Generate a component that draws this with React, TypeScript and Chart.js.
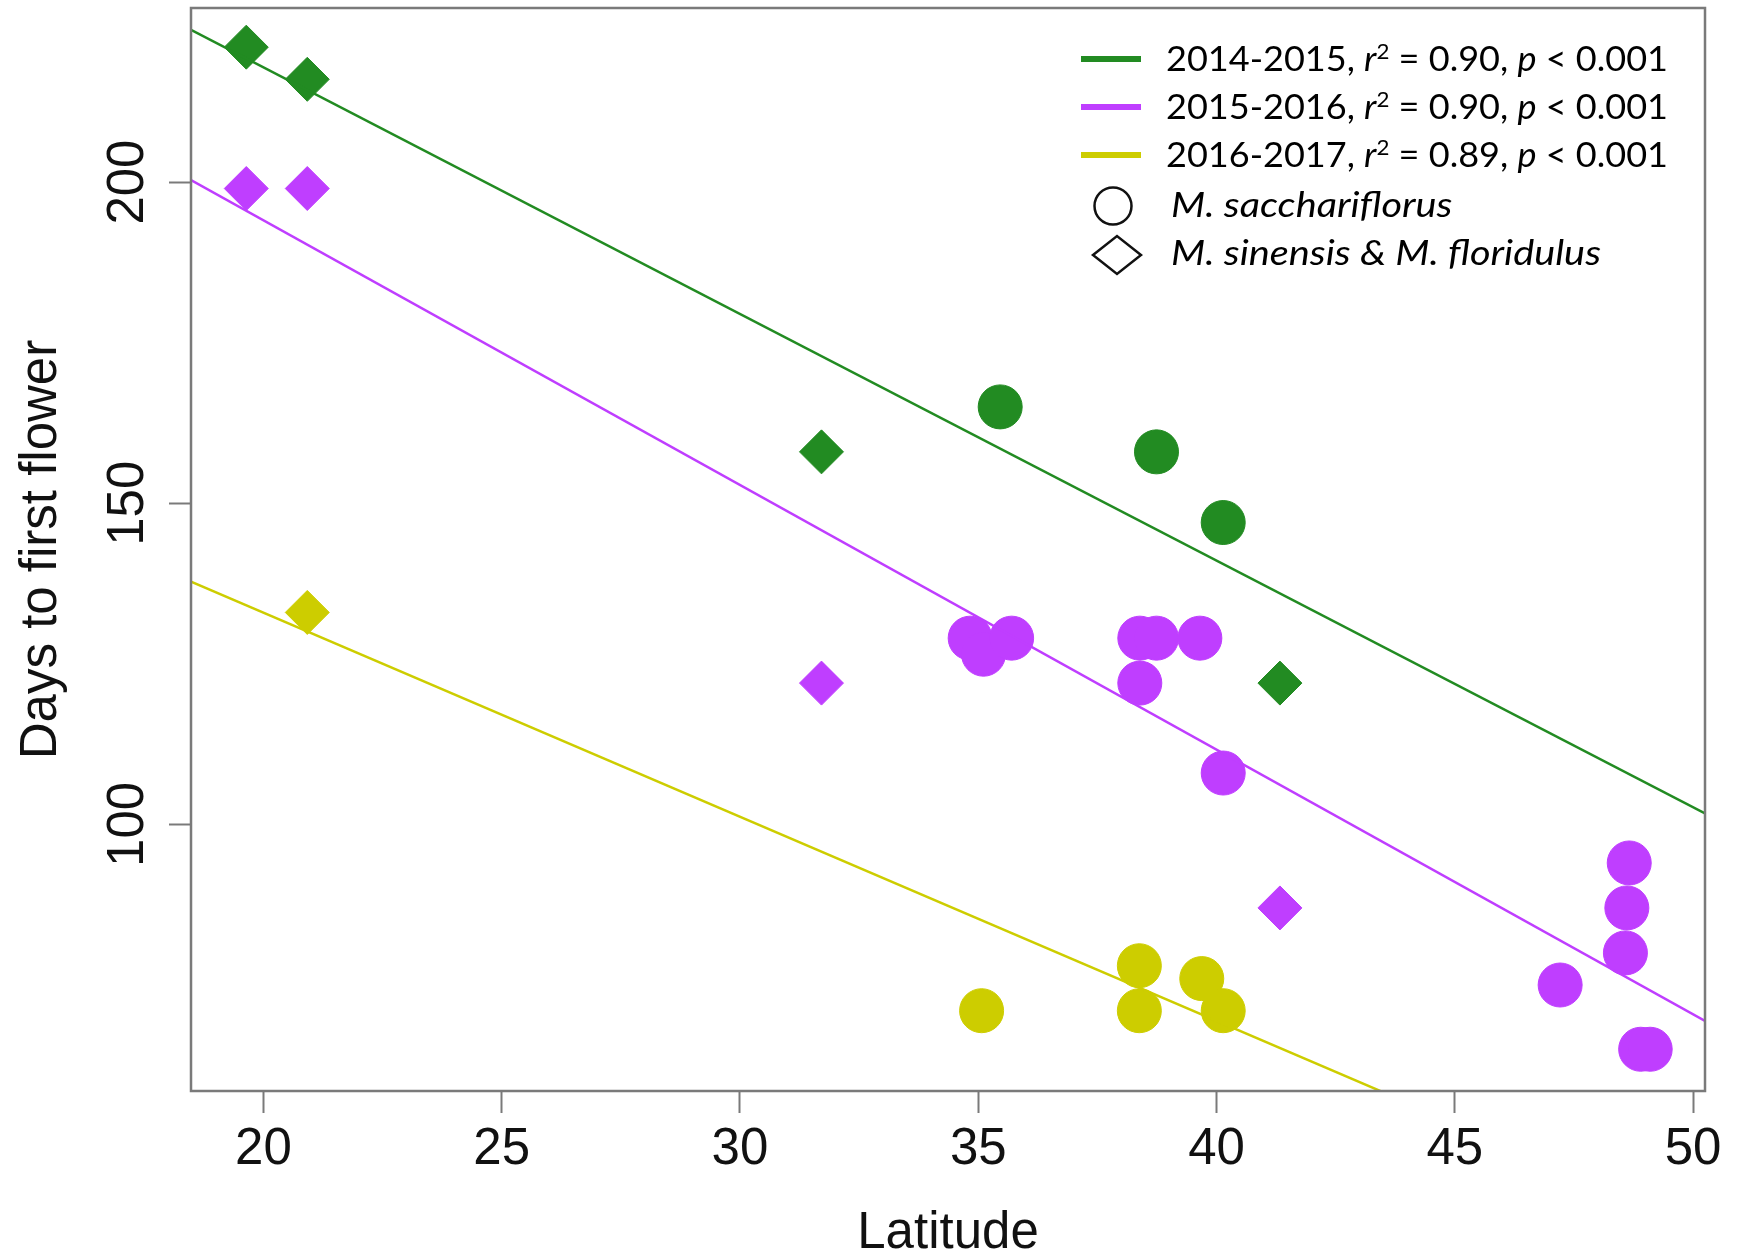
import React, { useEffect, useRef } from 'react';
import { Chart, registerables } from 'chart.js';

Chart.register(...registerables);

// ---- data ----
const seasons = ['2014-2015', '2015-2016', '2016-2017'];
const rSquared = ['0.90', '0.90', '0.89'];
const pValues = ['0.001', '0.001', '0.001'];
const seasonColors = ['#228B22', '#BF3EFF', '#CDCD00'];
const speciesLabels = ['M. sacchariflorus', 'M. sinensis & M. floridulus'];

const greenDiamondLat = [19.64, 20.92, 31.71, 41.33];
const greenDiamondDays = [221, 216, 158, 122];
const greenCircleLat = [35.46, 38.74, 40.14];
const greenCircleDays = [165, 158, 147];

const purpleDiamondLat = [19.64, 20.92, 31.71, 41.33];
const purpleDiamondDays = [199, 199, 122, 87];
const purpleCircleLat = [34.83, 35.11, 35.7, 38.39, 38.74, 38.39, 39.65, 40.14, 48.66, 48.61, 48.58, 47.21, 48.9, 49.1];
const purpleCircleDays = [129, 126.5, 129, 129, 129, 122, 129, 108, 94, 87, 80, 75, 65, 65];

const yellowDiamondLat = [20.92];
const yellowDiamondDays = [133];
const yellowCircleLat = [35.07, 38.38, 38.38, 39.69, 40.14];
const yellowCircleDays = [71, 78, 71, 76, 71];

const fitIntercepts = [294.66, 276.44, 196.5];
const fitSlopes = [-3.84, -4.12, -3.177];

const xTickValues = [20, 25, 30, 35, 40, 45, 50];
const yTickValues = [100, 150, 200];

const X_MIN = 18.48;
const X_MAX = 50.25;
const Y_MIN = 58.5;
const Y_MAX = 227.1;

const AXIS_FONT = '"Liberation Sans", Arial, Helvetica, sans-serif';
const LEGEND_FONT = 'Lato, "Open Sans", sans-serif';
const AXIS_GREY = '#7a7a7a';

const pts = (xs: number[], ys: number[]) => xs.map((x, i) => ({ x, y: ys[i] }));

type Seg = { text: string; italic?: boolean; sup?: boolean };

function segFont(s: Seg, size: number) {
  const fs = s.sup ? size * 0.62 : size;
  return `${s.italic ? 'italic ' : ''}${fs}px ${LEGEND_FONT}`;
}

function measureRich(ctx: CanvasRenderingContext2D, segs: Seg[], size: number) {
  let w = 0;
  for (const s of segs) {
    ctx.font = segFont(s, size);
    w += ctx.measureText(s.text).width;
  }
  return w;
}

function drawRich(ctx: CanvasRenderingContext2D, segs: Seg[], x: number, y: number, size: number, sx: number) {
  ctx.save();
  ctx.translate(x, y);
  ctx.scale(sx, 1);
  let cx = 0;
  for (const s of segs) {
    ctx.font = segFont(s, size);
    ctx.fillText(s.text, cx, s.sup ? -size * 0.36 : 0);
    cx += ctx.measureText(s.text).width;
  }
  ctx.restore();
}

const rPlugin = {
  id: 'rStyle',
  afterDraw(chart: any) {
    const { ctx, chartArea: a, scales } = chart;
    ctx.save();
    // box
    ctx.strokeStyle = AXIS_GREY;
    ctx.lineWidth = 2.5;
    ctx.strokeRect(a.left, a.top, a.right - a.left, a.bottom - a.top);

    // rotated y tick labels
    const ys = scales.y;
    ctx.fillStyle = '#111';
    ctx.font = `51px ${AXIS_FONT}`;
    ctx.textAlign = 'center';
    ctx.textBaseline = 'alphabetic';
    ys.ticks.forEach((t: any) => {
      const py = ys.getPixelForValue(t.value);
      ctx.save();
      ctx.translate(a.left - 48, py);
      ctx.rotate(-Math.PI / 2);
      ctx.fillText(String(t.value), 0, 0);
      ctx.restore();
    });

    // legend
    const size = 34;
    const lx0 = a.left + 890;
    const lineY = [a.top + 51, a.top + 99, a.top + 147];
    const baseY = [a.top + 63, a.top + 111, a.top + 159, a.top + 209, a.top + 257];
    const rows: Seg[][] = seasons.map((s, i) => [
      { text: s + ', ' },
      { text: 'r', italic: true },
      { text: '2', sup: true },
      { text: ' = ' + rSquared[i] + ', ' },
      { text: 'p', italic: true },
      { text: ' < ' + pValues[i] },
    ]);
    ctx.textAlign = 'left';
    ctx.textBaseline = 'alphabetic';
    const sx = 502 / measureRich(ctx, rows[0], size);
    rows.forEach((segs, i) => {
      ctx.strokeStyle = seasonColors[i];
      ctx.lineWidth = 6;
      ctx.beginPath();
      ctx.moveTo(lx0, lineY[i]);
      ctx.lineTo(lx0 + 60, lineY[i]);
      ctx.stroke();
      ctx.fillStyle = '#000';
      drawRich(ctx, segs, lx0 + 85, baseY[i], size, sx);
    });
    // circle symbol
    ctx.strokeStyle = '#111';
    ctx.lineWidth = 2.5;
    ctx.beginPath();
    ctx.arc(lx0 + 32, baseY[3] - 11, 18.5, 0, Math.PI * 2);
    ctx.stroke();
    // diamond symbol
    const dx = lx0 + 36;
    const dy = baseY[4] - 10;
    ctx.beginPath();
    ctx.moveTo(dx - 24, dy);
    ctx.lineTo(dx, dy - 19);
    ctx.lineTo(dx + 24, dy);
    ctx.lineTo(dx, dy + 19);
    ctx.closePath();
    ctx.stroke();
    ctx.fillStyle = '#000';
    const speciesSegs: Seg[][] = speciesLabels.map((lbl) => [{ text: lbl, italic: true }]);
    const sx2 = 430 / measureRich(ctx, speciesSegs[1], size);
    speciesSegs.forEach((segs, j) => {
      drawRich(ctx, segs, lx0 + 90, baseY[3 + j], size, sx2);
    });
    ctx.restore();
  },
};

export default function App() {
  const ref = useRef<HTMLCanvasElement | null>(null);

  useEffect(() => {
    if (!ref.current) return;
    const lineData = (i: number) => [
      { x: X_MIN, y: fitIntercepts[i] + fitSlopes[i] * X_MIN },
      { x: X_MAX, y: fitIntercepts[i] + fitSlopes[i] * X_MAX },
    ];
    const pointSet = (data: any[], color: string, style: string) => ({
      data,
      pointStyle: style,
      pointRadius: 22,
      backgroundColor: color,
      borderColor: color,
      borderWidth: 1,
      showLine: false,
      order: 1,
    });
    const lineSet = (i: number) => ({
      data: lineData(i),
      showLine: true,
      borderColor: seasonColors[i],
      borderWidth: 2.5,
      pointRadius: 0,
      tension: 0,
      fill: false,
      order: 0,
    });

    const chart = new Chart(ref.current, {
      type: 'scatter',
      data: {
        datasets: [
          lineSet(0),
          lineSet(1),
          lineSet(2),
          pointSet(pts(greenDiamondLat, greenDiamondDays), seasonColors[0], 'rectRot'),
          pointSet(pts(greenCircleLat, greenCircleDays), seasonColors[0], 'circle'),
          pointSet(pts(purpleDiamondLat, purpleDiamondDays), seasonColors[1], 'rectRot'),
          pointSet(pts(purpleCircleLat, purpleCircleDays), seasonColors[1], 'circle'),
          pointSet(pts(yellowDiamondLat, yellowDiamondDays), seasonColors[2], 'rectRot'),
          pointSet(pts(yellowCircleLat, yellowCircleDays), seasonColors[2], 'circle'),
        ] as any,
      },
      options: {
        animation: false,
        responsive: false,
        events: [],
        layout: { autoPadding: false, padding: { left: 0, top: 8, right: 33, bottom: 0 } },
        plugins: { legend: { display: false }, tooltip: { enabled: false } },
        scales: {
          x: {
            type: 'linear',
            min: X_MIN,
            max: X_MAX,
            afterBuildTicks: (s: any) => {
              s.ticks = xTickValues.map((v) => ({ value: v }));
            },
            afterFit: (s: any) => {
              s.height = 168;
            },
            border: { display: false },
            grid: {
              drawOnChartArea: false,
              drawTicks: true,
              tickLength: 22,
              tickWidth: 2,
              tickColor: AXIS_GREY,
            },
            ticks: {
              autoSkip: false,
              maxRotation: 0,
              padding: 6,
              color: '#111',
              font: { family: AXIS_FONT, size: 51 },
              callback: (v: any) => String(v),
            },
            title: {
              display: true,
              text: 'Latitude',
              color: '#111',
              font: { family: AXIS_FONT, size: 51, lineHeight: 1.0 },
              padding: { top: 0, bottom: 0 },
            },
          },
          y: {
            type: 'linear',
            min: Y_MIN,
            max: Y_MAX,
            afterBuildTicks: (s: any) => {
              s.ticks = yTickValues.map((v) => ({ value: v }));
            },
            afterFit: (s: any) => {
              s.width = 191;
            },
            border: { display: false },
            grid: {
              drawOnChartArea: false,
              drawTicks: true,
              tickLength: 22,
              tickWidth: 2,
              tickColor: AXIS_GREY,
            },
            ticks: { display: false },
            title: {
              display: true,
              text: 'Days to first flower',
              color: '#111',
              font: { family: AXIS_FONT, size: 51 },
              padding: { top: 11, bottom: 0 },
            },
          },
        },
      } as any,
      plugins: [rPlugin as any],
    });
    return () => chart.destroy();
  }, []);

  return (
    <div style={{ position: 'fixed', left: 0, top: 0, width: 1738, height: 1259, background: '#fff' }}>
      <canvas ref={ref} width={1738} height={1259} style={{ display: 'block', width: 1738, height: 1259 }} />
    </div>
  );
}
